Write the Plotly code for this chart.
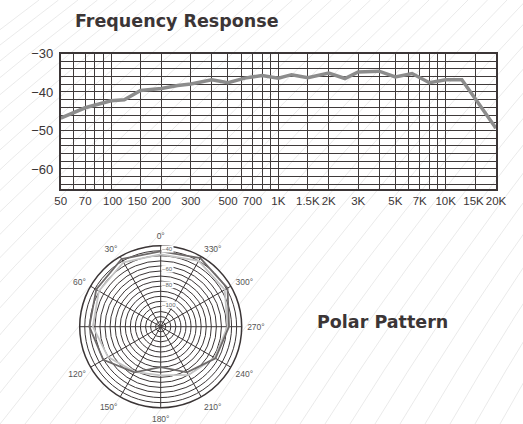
import plotly.graph_objects as go

# ---------------- data ----------------
freq_hz = [50, 70, 100, 120, 150, 200, 250, 300, 400, 500, 630, 800, 1000, 1200,
           1500, 2000, 2500, 3000, 4000, 5000, 6300, 8000, 10000, 12500, 15000, 20000]
response_db = [-46.8, -44.1, -42.3, -42.0, -39.6, -39.1, -38.3, -37.9, -36.8, -37.6,
               -36.4, -35.7, -36.4, -35.5, -36.3, -35.1, -36.5, -34.8, -34.6, -36.1,
               -35.2, -37.6, -36.8, -36.8, -41.7, -49.4]

x_grid_hz = [50, 60, 70, 80, 90, 100, 150, 200, 300, 400, 500, 600, 700, 800, 900,
             1000, 1500, 2000, 3000, 4000, 5000, 6000, 7000, 8000, 9000, 10000, 15000, 20000]
x_grid_labels = ["50", "", "70", "", "", "\u00a0100", "150\u00a0\u00a0", "200", "300", "", "500", "", "700", "", "",
                 "1K", "1.5K", "2K", "3K", "", "5K", "", "7K", "", "", "10K", "15K\u00a0", "20K"]

y_grid_db = list(range(-30, -66, -2))
y_labels = {-30: "\u221230", -40: "\u221240", -50: "\u221250", -60: "\u221260"}
y_grid_labels = [y_labels.get(v, "") for v in y_grid_db]

polar_angles = [0, 30, 60, 90, 120, 150, 180, 210, 240, 270, 300, 330, 360]
polar_dark_db = [-45.5, -42.8, -46.5, -49.5, -54.5, -68.0, -80.0, -68.0, -57.5, -52.5, -43.8, -41.8, -45.5]
polar_light_db = [-48.5, -46.5, -49.5, -53.0, -60.0, -68.5, -72.0, -65.0, -58.5, -54.0, -47.0, -45.0, -48.5]

polar_tick_angles = [0, 30, 60, 90, 120, 150, 180, 210, 240, 270, 300, 330]
polar_tick_labels = ["0°", "30°", "60°", "", "120°", "150°", "180°", "210°", "240°", "270°", "300°", "330°"]
radial_tick_vals = [-40, -60, -80, -100]
radial_tick_text = ["\u221240", "\u221260", "\u221280", "\u2212100"]

# ---------------- figure ----------------
W, H = 523, 424
INK = "#3b3536"
GRID = "#3f3a3a"

fig = go.Figure()

fig.add_trace(go.Scatter(
    x=freq_hz, y=response_db, mode="lines",
    line=dict(color="#8c8c8c", width=3.5), showlegend=False, hoverinfo="skip"))

fig.add_trace(go.Scatterpolar(
    theta=polar_angles, r=polar_light_db, mode="lines",
    line=dict(color="#c4c4c4", width=1.8), showlegend=False, hoverinfo="skip"))
fig.add_trace(go.Scatterpolar(
    theta=polar_angles, r=polar_dark_db, mode="lines",
    line=dict(color="#6e6a6a", width=1.8), showlegend=False, hoverinfo="skip"))

# plot geometry in pixels
px_l, px_r, px_t, px_b = 60.7, 496.0, 53.5, 189.0
cx, cy, rad = 160.7, 326.7, 81.0

# faint decorative diagonal background strokes (not data)
deco = []
step = 25.0
for i in range(-18, 22):
    xb = i * step
    run = 390.0 - 0.22 * xb
    deco.append(dict(type="path", xref="paper", yref="paper", layer="below",
                     path=f"M {xb / W:.4f},0 Q {(xb + run * 0.42) / W:.4f},0.5 {(xb + run) / W:.4f},1",
                     line=dict(color="#e4e4e4", width=0.8)))

fig.update_layout(
    width=W, height=H,
    margin=dict(l=0, r=0, t=0, b=0, autoexpand=False),
    paper_bgcolor="white",
    plot_bgcolor="rgba(0,0,0,0)",
    shapes=deco,
    xaxis=dict(
        type="log", automargin=False,
        domain=[px_l / W, px_r / W],
        range=[1.69897, 4.30103],
        tickmode="array", tickvals=x_grid_hz, ticktext=x_grid_labels, tickangle=0,
        showgrid=True, gridcolor=GRID, gridwidth=1.2,
        showline=True, linecolor=INK, linewidth=1.6, mirror=True,
        ticks="", tickfont=dict(family="Liberation Sans, Arial", size=11.5, color=INK),
        zeroline=False, fixedrange=True,
    ),
    yaxis=dict(
        automargin=False,
        domain=[1 - px_b / H, 1 - px_t / H],
        range=[-65.2, -30],
        tickmode="array", tickvals=y_grid_db, ticktext=y_grid_labels,
        ticklabelstandoff=3,
        showgrid=True, gridcolor=GRID, gridwidth=1.2,
        showline=True, linecolor=INK, linewidth=1.6, mirror=True,
        ticks="", tickfont=dict(family="Liberation Sans, Arial", size=13, color=INK),
        zeroline=False, fixedrange=True,
    ),
    polar=dict(
        domain=dict(x=[(cx - rad) / W, (cx + rad) / W],
                    y=[1 - (cy + rad) / H, 1 - (cy - rad) / H]),
        bgcolor="white",
        angularaxis=dict(
            rotation=90, direction="counterclockwise",
            tickmode="array", tickvals=polar_tick_angles, ticktext=polar_tick_labels,
            showgrid=True, gridcolor=INK, gridwidth=1,
            showline=True, linecolor=INK, linewidth=1.5,
            ticks="outside", ticklen=3, tickcolor="rgba(0,0,0,0)",
            tickfont=dict(family="Liberation Sans, Arial", size=8.5, color="#555"),
        ),
        radialaxis=dict(
            range=[-120, -40], angle=90,
            tickmode="linear", tick0=-120, dtick=5,
            showgrid=True, gridcolor=INK, gridwidth=1,
            showline=False, ticks="", showticklabels=False,
        ),
    ),
    annotations=[
        dict(text="<b>Frequency Response</b>", x=73 / W, y=1 - 21 / H, xref="paper", yref="paper",
             xanchor="left", yanchor="middle", showarrow=False,
             font=dict(family="DejaVu Sans", size=17.5, color=INK)),
        dict(text="<b>Polar Pattern</b>", x=315 / W, y=1 - 322 / H, xref="paper", yref="paper",
             xanchor="left", yanchor="middle", showarrow=False,
             font=dict(family="DejaVu Sans", size=17.5, color=INK)),
    ],
)

# radial labels along the 0° spoke
for v, t in zip(radial_tick_vals, radial_tick_text):
    rr = (v + 120) / 80 * rad
    fig.add_annotation(text=t, x=cx / W, y=1 - (cy - rr + 3) / H, xref="paper", yref="paper",
                       showarrow=False, bgcolor="white", borderpad=0,
                       font=dict(family="Liberation Sans, Arial", size=6, color="#666"))

fig.write_html("out.html", config={"displayModeBar": False},
               post_script="document.body.style.margin='0px';")
